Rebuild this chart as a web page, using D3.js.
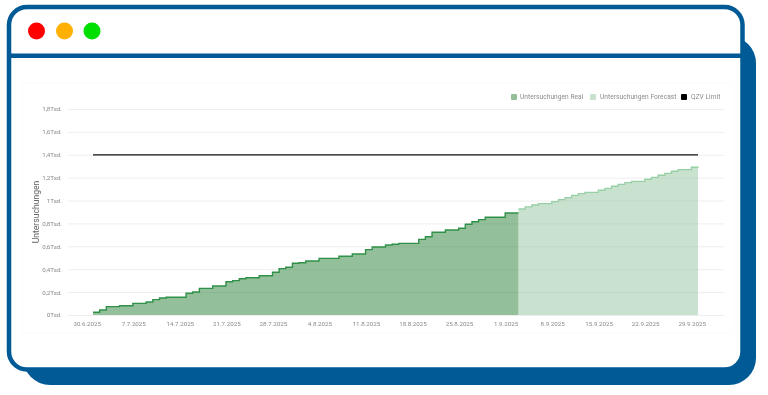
<!DOCTYPE html>
<html><head><meta charset="utf-8">
<script src="https://cdn.jsdelivr.net/npm/d3@7/dist/d3.min.js"></script>
<style>html,body{margin:0;padding:0;background:#fff}svg{display:block;font-family:Roboto,sans-serif;filter:blur(.4px)}</style>
</head><body><svg id="c" width="768" height="395"></svg>
<script>
const startDay = "2025-06-30";
const realValues = [24,44,73,73,81,81,102,102,114,134,149,155,155,155,190,201,233,233,253,253,291,300,317,326,326,343,343,373,405,417,452,457,472,472,495,495,495,513,513,533,533,571,594,594,612,618,626,626,626,661,684,723,723,743,743,758,793,815,833,854,854,854,891,891,891];
const forecastValues = [926,944,961,973,973,990,1008,1025,1046,1060,1072,1072,1090,1107,1125,1142,1156,1168,1168,1186,1203,1221,1238,1256,1270,1270,1291,1296];
const limitValue = 1400;
const yTicks = [0,200,400,600,800,1000,1200,1400,1600,1800];
const yTickLabels = ["0Tsd.","0,2Tsd.","0,4Tsd.","0,6Tsd.","0,8Tsd.","1Tsd.","1,2Tsd.","1,4Tsd.","1,6Tsd.","1,8Tsd."];
const xTickDays = ["2025-06-30","2025-07-07","2025-07-14","2025-07-21","2025-07-28","2025-08-04","2025-08-11","2025-08-18","2025-08-25","2025-09-01","2025-09-08","2025-09-15","2025-09-22","2025-09-29"];
const xTickLabels = ["30.6.2025","7.7.2025","14.7.2025","21.7.2025","28.7.2025","4.8.2025","11.8.2025","18.8.2025","25.8.2025","1.9.2025","8.9.2025","15.9.2025","22.9.2025","29.9.2025"];
const legendLabels = ["Untersuchungen Real","Untersuchungen Forecast","QZV Limit"];

const svg = d3.select("#c");
const BLUE = "#005a96";
// window frame
svg.append("rect").attr("x",23).attr("y",36).attr("width",733).attr("height",349).attr("rx",27).attr("fill",BLUE);
svg.append("rect").attr("x",9).attr("y",7).attr("width",733.5).attr("height",362.5).attr("rx",18).attr("fill","#fff").attr("stroke",BLUE).attr("stroke-width",4.5);
svg.append("rect").attr("x",11).attr("y",53.5).attr("width",731).attr("height",4.5).attr("fill",BLUE);
[[36.5,"#ff0000"],[64.5,"#ffb000"],[92,"#00e000"]].forEach(([cx,f])=>svg.append("circle").attr("cx",cx).attr("cy",31).attr("r",8.5).attr("fill",f));
svg.append("rect").attr("x",22).attr("y",83).attr("width",712).attr("height",250).attr("fill","none").attr("stroke","#fbfbfb");

const parse = d3.utcParse("%Y-%m-%d");
const t0 = parse(startDay);
const day = i => d3.utcDay.offset(t0,i);
const x = d3.scaleUtc().domain([t0,parse(xTickDays[xTickDays.length-1])]).range([93,698]);
const y = d3.scaleLinear().domain([0,1800]).range([315,109]);

// y axis and gridlines
const gy = svg.append("g").attr("transform","translate(68,0)")
  .call(d3.axisLeft(y).tickValues(yTicks).tickSize(-656).tickPadding(6).tickFormat((d,i)=>yTickLabels[i]));
gy.select(".domain").remove();
gy.selectAll("line").attr("stroke","#eeeeee").attr("stroke-width",1);
gy.selectAll("text").attr("fill","#8a8a8a").attr("font-size",6.2).attr("font-family","Roboto");

// areas
const area = d3.area().curve(d3.curveStepAfter).x(d=>x(d[0])).y0(y(0)).y1(d=>y(d[1]));
const line = d3.line().curve(d3.curveStepAfter).x(d=>x(d[0])).y(d=>y(d[1]));
const real = realValues.map((v,i)=>[day(i),v]);
const fc = forecastValues.map((v,i)=>[day(i+realValues.length-1),v]);
svg.append("path").datum(real).attr("d",area).attr("fill","#2a7f37").attr("fill-opacity",.5);
svg.append("path").datum(real).attr("d",line).attr("fill","none").attr("stroke","#2f9148").attr("stroke-width",1.4);
svg.append("path").datum(fc).attr("d",area).attr("fill","#93c39f").attr("fill-opacity",.5);
svg.append("path").datum(fc).attr("d",line).attr("fill","none").attr("stroke","#98d0a6").attr("stroke-width",1.3);
// limit
svg.append("line").attr("x1",x(t0)).attr("x2",x(day(91))).attr("y1",y(limitValue)).attr("y2",y(limitValue)).attr("stroke","#111").attr("stroke-width",1.3);

// x axis
const gx = svg.append("g").attr("transform","translate(0,315.5)")
  .call(d3.axisBottom(x).tickValues(xTickDays.map(parse)).tickSize(0).tickPadding(6).tickFormat((d,i)=>xTickLabels[i]));
gx.select(".domain").remove();
gx.selectAll("text").attr("dx",-6.3).attr("fill","#8a8a8a").attr("font-size",6.2).attr("font-family","Roboto");

// y title
svg.append("text").attr("transform","translate(38.5,212) rotate(-90)").attr("text-anchor","middle")
  .attr("fill","#666").attr("font-size",8.6).text("Untersuchungen");

// legend
const legendX = [[511,520],[590,600],[681,691]];
const legendColors = ["#94bf99","#c9e1cf","#000"];
legendLabels.forEach((l,i)=>{
  svg.append("rect").attr("x",legendX[i][0]).attr("y",94).attr("width",6).attr("height",6).attr("rx",1).attr("fill",legendColors[i]);
  svg.append("text").attr("x",legendX[i][1]).attr("y",99.3).attr("fill","#8a8a8a").attr("font-size",6.6).attr("letter-spacing",.05).text(l);
});
</script></body></html>
